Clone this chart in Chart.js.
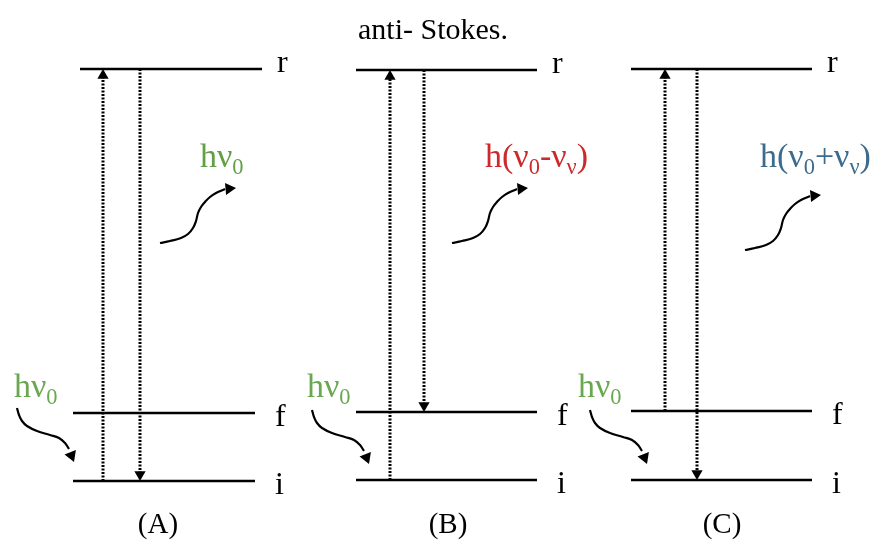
<!DOCTYPE html>
<html>
<head>
<meta charset="utf-8">
<script src="https://cdn.jsdelivr.net/npm/chart.js@4.4.0/dist/chart.umd.min.js"></script>
<style>
  body { margin: 0; background: #fff; }
  #wrap { width: 876px; height: 550px; }
</style>
</head>
<body>
<div id="wrap"><canvas id="myChart"></canvas></div>
<script>
const ctx = document.getElementById('myChart');

// energy levels r, f, i (diagram units, 0 at top)
const panels = ['(A)', '(B)', '(C)'];
const levelNames = ['r', 'f', 'i'];
const levelsA = [69, 413, 481];
const levelsB = [70, 412, 480];
const levelsC = [69, 411, 480];
// absorbed and emitted transitions [from, to] as level indexes
const absorbed = [[2, 0], [2, 0], [1, 0]];
const emitted = [[0, 2], [0, 1], [0, 2]];
// photon labels: [text, isSubscript]
const photonIn = [['hν', 0], ['0', 1]];
const photonOut = [
    [['hν', 0], ['0', 1]],
    [['h(ν', 0], ['0', 1], ['-ν', 0], ['ν', 1], [')', 0]],
    [['h(ν', 0], ['0', 1], ['+ν', 0], ['ν', 1], [')', 0]]
];
const photonColors = ['#62a048', '#cc2a2a', '#3d6b8c'];
const inColor = '#6aa84f';

// layout of the drawing
const levelsAll = [levelsA, levelsB, levelsC];
const levelX = [[[80, 262], [73, 255], [73, 255]], [[356, 537], [356, 537], [356, 537]], [[631, 812], [631, 812], [631, 812]]];
const labelShift = [[15, 3], [20, 13], [20, 13]];
const arrowX = [[103, 140], [390, 424], [665, 697]];
const outCurveStart = [[160, 243], [452, 243], [745, 250]];
const inCurveStart = [[17, 408], [312, 410], [590, 410]];
// wavy arrow shapes relative to their start
const outWave = [[0, 0], [10, -2], [21, -5], [28, -9], [33, -15], [36, -22], [38, -30], [41, -36], [45, -41], [50, -46], [56, -50], [65, -54]];
const outTip = [76, -55];
const inWave = [[0, 0], [2, 7], [5, 13], [10, 18], [20, 23], [33, 27], [42, 30], [48, 35], [52, 41]];
const inTip = [57, 54];

const datasets = [];

function line(points, extra) {
    datasets.push(Object.assign({
        data: points.map(p => ({ x: p[0], y: p[1] })),
        showLine: true,
        pointRadius: 0,
        borderColor: '#000',
        borderWidth: 2.5
    }, extra || {}));
}

function arrowHead(tip, from, r) {
    const dx = tip[0] - from[0], dy = tip[1] - from[1];
    const len = Math.hypot(dx, dy);
    const cx = tip[0] - dx / len * r, cy = tip[1] - dy / len * r;
    datasets.push({
        data: [{ x: cx, y: cy }],
        pointStyle: 'triangle',
        pointRadius: r,
        rotation: Math.atan2(dx, -dy) * 180 / Math.PI,
        backgroundColor: '#000',
        borderColor: '#000',
        borderWidth: 0
    });
}

levelsAll.forEach((lv, p) => {
    lv.forEach((y, k) => line([[levelX[p][k][0], y], [levelX[p][k][1], y]]));
    [absorbed[p], emitted[p]].forEach((t, j) => {
        const x = arrowX[p][j];
        const y0 = lv[t[0]], y1 = lv[t[1]];
        const dir = Math.sign(y1 - y0);
        line([[x, y0], [x, y1 - dir * 8]], { borderWidth: 3, borderDash: [2, 1.5] });
        arrowHead([x, y1], [x, y0], 6.5);
    });
    const so = outCurveStart[p];
    const outPts = outWave.map(q => [so[0] + q[0], so[1] + q[1]]);
    line(outPts, { borderWidth: 2.2, tension: 0.4 });
    arrowHead([so[0] + outTip[0], so[1] + outTip[1]], outPts[outPts.length - 1], 7);
    const si = inCurveStart[p];
    const inPts = inWave.map(q => [si[0] + q[0], si[1] + q[1]]);
    line(inPts, { borderWidth: 2.2, tension: 0.4 });
    arrowHead([si[0] + inTip[0], si[1] + inTip[1]], inPts[inPts.length - 1], 7);
});

const serif = '"Liberation Serif", "DejaVu Serif", serif';
const outLabelPos = [[200, 167], [485, 167], [760, 167]];
const inLabelPos = [[14, 397], [307, 397], [578, 397]];
const panelLabelPos = [158, 448, 722];

function runs(c, parts, x, y, size, color) {
    c.fillStyle = color;
    c.textAlign = 'left';
    c.textBaseline = 'alphabetic';
    parts.forEach(([t, sub]) => {
        c.font = (sub ? size * 0.66 : size) + 'px ' + serif;
        c.fillText(t, x, sub ? y + size * 0.2 : y);
        x += c.measureText(t).width;
    });
}

const textPlugin = {
    id: 'diagramText',
    afterDraw: (chart) => {
        const c = chart.ctx;
        const sx = chart.scales.x, sy = chart.scales.y;
        c.save();
        c.fillStyle = '#000';
        c.textAlign = 'center';
        c.textBaseline = 'alphabetic';
        c.font = '30px ' + serif;
        c.fillText('anti- Stokes.', sx.getPixelForValue(433), sy.getPixelForValue(39));
        levelsAll.forEach((lv, p) => {
            c.fillStyle = '#000';
            c.textAlign = 'left';
            c.font = '32px ' + serif;
            lv.forEach((y, k) => {
                c.fillText(levelNames[k], sx.getPixelForValue(levelX[p][k][1] + labelShift[k][0]), sy.getPixelForValue(y + labelShift[k][1]));
            });
            c.textAlign = 'center';
            c.font = '29px ' + serif;
            c.fillText(panels[p], sx.getPixelForValue(panelLabelPos[p]), sy.getPixelForValue(533));
            runs(c, photonOut[p], sx.getPixelForValue(outLabelPos[p][0]), sy.getPixelForValue(outLabelPos[p][1]), 34, photonColors[p]);
            runs(c, photonIn, sx.getPixelForValue(inLabelPos[p][0]), sy.getPixelForValue(inLabelPos[p][1]), 34, inColor);
        });
        c.restore();
    }
};

new Chart(ctx, {
    type: 'scatter',
    data: { datasets: datasets },
    options: {
        responsive: true,
        maintainAspectRatio: false,
        animation: false,
        layout: { padding: 0, autoPadding: false },
        plugins: { legend: { display: false }, tooltip: { enabled: false } },
        scales: {
            x: { type: 'linear', min: 0, max: 876, display: false },
            y: { type: 'linear', min: 0, max: 550, reverse: true, display: false }
        }
    },
    plugins: [textPlugin]
});
</script>
</body>
</html>
